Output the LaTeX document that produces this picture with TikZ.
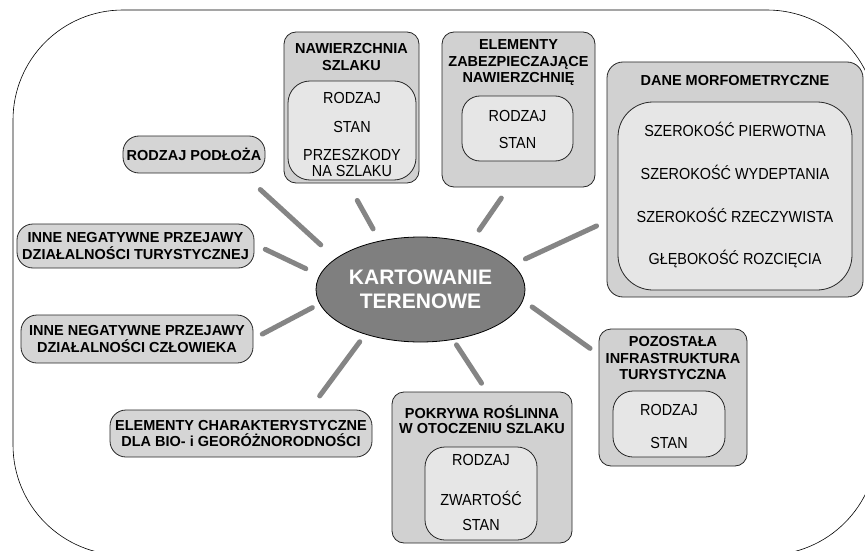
\documentclass[tikz,border=0pt]{standalone}
\usepackage{fontspec}
\setmainfont{Liberation Sans}
\newfontfamily\itemfont[FakeStretch=0.9]{Liberation Sans}
\usetikzlibrary{shapes.geometric}
\definecolor{boxgray}{HTML}{D1D1D1}
\definecolor{innergray}{HTML}{E6E6E6}
\definecolor{pillgray}{HTML}{D5D5D5}
\definecolor{ktgray}{HTML}{7F7F7F}
\definecolor{linkgray}{HTML}{858585}
\tikzset{
	% frame round everything
	frame/.style={draw=black, line width=0.6pt, rounded corners=110pt},
	% boxes
	outerbox/.style={draw=black!85, fill=boxgray, rounded corners=12pt, line width=0.8pt, inner sep=0pt, outer sep=0pt},
	innerbox/.style={draw=black!85, fill=innergray, rounded corners=22pt, line width=0.8pt, inner sep=0pt, outer sep=0pt},
	pill/.style={draw=black!85, fill=pillgray, rounded corners=16pt, line width=0.8pt, inner sep=0pt, outer sep=0pt, align=center, font=\fontsize{14.5}{16.5}\selectfont\bfseries},
	% texts
	title/.style={align=center, inner sep=0pt, font=\fontsize{14.5}{16.5}\selectfont\bfseries},
	item/.style={align=center, inner sep=0pt, font=\itemfont\fontsize{16}{16.5}\selectfont},
	% connectors
	link/.style={draw=linkgray, line width=5pt, line cap=round},
}

\begin{document}
\begin{tikzpicture}[x=1pt, y=-1pt]
	\useasboundingbox (0,0) rectangle (865,551);
	\clip (0,0) rectangle (865,551);
	\draw[frame] (13,10) rectangle (877,555);
	
	% centre
	\node[ellipse, draw=black, line width=0.8pt, fill=ktgray, minimum width=209pt, minimum height=105pt, inner sep=0pt, outer sep=0pt, text=white, align=center, font=\fontsize{21}{23.5}\selectfont\bfseries] (kt) at (420.5,289.5) {KARTOWANIE\\TERENOWE};
	
	% nawierzchnia
	\node[outerbox, minimum width=135pt, minimum height=151pt] (naw) at (351.5,107.5) {};
	\node[title] (nawt) at (351.5,57) {NAWIERZCHNIA\\SZLAKU};
	\node[innerbox, minimum width=128pt, minimum height=99pt] (nawin) at (352,130.5) {};
	\node[item] (nawa) at (352,97.5) {RODZAJ};
	\node[item] (nawb) at (352,126.5) {STAN};
	\node[item] (nawc) at (352,163) {PRZESZKODY\\[-0.5pt]NA SZLAKU};
	
	% elementy zabezpieczajace
	\node[outerbox, minimum width=153pt, minimum height=155pt] (zab) at (518.5,109.5) {};
	\node[title] (zabt) at (518.5,63) {ELEMENTY\\ZABEZPIECZAJĄCE\\NAWIERZCHNIĘ};
	\node[innerbox, rounded corners=18pt, minimum width=111pt, minimum height=65pt] (zabin) at (517.5,128.5) {};
	\node[item] (zaba) at (517.5,116) {RODZAJ};
	\node[item] (zabb) at (517.5,143) {STAN};
	
	% dane morfometryczne
	\node[outerbox, rounded corners=16pt, minimum width=256pt, minimum height=235pt] (morf) at (735,179.5) {};
	\node[title] (morft) at (735,81) {DANE MORFOMETRYCZNE};
	\node[innerbox, rounded corners=35pt, minimum width=234pt, minimum height=188pt] (morfin) at (735,196) {};
	\node[item] (morfa) at (735,129) {SZEROKOŚĆ PIERWOTNA};
	\node[item] (morfb) at (735,172) {SZEROKOŚĆ WYDEPTANIA};
	\node[item] (morfc) at (735,215) {SZEROKOŚĆ RZECZYWISTA};
	\node[item] (morfd) at (735,259) {GŁĘBOKOŚĆ ROZCIĘCIA};
	
	% pozostala infrastruktura
	\node[outerbox, minimum width=148pt, minimum height=137pt] (poz) at (673,397.5) {};
	\node[title] (pozt) at (673,358.5) {POZOSTAŁA\\INFRASTRUKTURA\\TURYSTYCZNA};
	\node[innerbox, rounded corners=20pt, minimum width=112pt, minimum height=66pt] (pozin) at (669,424) {};
	\node[item] (poza) at (669,410) {RODZAJ};
	\node[item] (pozb) at (669,443) {STAN};
	
	% pokrywa roslinna
	\node[outerbox, minimum width=180pt, minimum height=151pt] (pok) at (482,467.5) {};
	\node[title] (pokt) at (482,419.5) {POKRYWA ROŚLINNA\\[-1.5pt]W OTOCZENIU SZLAKU};
	\node[innerbox, rounded corners=20pt, minimum width=112pt, minimum height=93pt] (pokin) at (481,493.5) {};
	\node[item] (poka) at (481,460) {RODZAJ};
	\node[item] (pokb) at (481,498) {ZWARTOŚĆ};
	\node[item] (pokc) at (481,525) {STAN};
	
	% left side
	\node[pill, minimum width=142pt, minimum height=37pt] (podl) at (194,154.5) {RODZAJ PODŁOŻA};
	\node[pill, minimum width=237pt, minimum height=44pt] (tur) at (135.5,246) {INNE NEGATYWNE PRZEJAWY\\DZIAŁALNOŚCI TURYSTYCZNEJ};
	\node[pill, minimum width=232pt, minimum height=48pt] (czl) at (137,339) {INNE NEGATYWNE PRZEJAWY\\DZIAŁALNOŚCI CZŁOWIEKA};
	\node[pill, minimum width=262pt, minimum height=47pt] (bio) at (241,433.5) {ELEMENTY CHARAKTERYSTYCZNE\\DLA BIO- i GEORÓŻNORODNOŚCI};
	
	% connectors
	\draw[link, shorten <=20.5pt, shorten >=24.5pt] (kt.160.4) -- (podl.-21.7);
	\draw[link, shorten <=15.5pt, shorten >=12.5pt] (kt.172.2) -- (tur.1.2);
	\draw[link, shorten <=8.5pt, shorten >=10.5pt] (kt.188.4) -- (czl.0.2);
	\draw[link, shorten <=9.5pt, shorten >=17.5pt] (kt.219.6) -- (bio.19.1);
	\draw[link, shorten <=6.5pt, shorten >=10.5pt] (kt.-57.2) -- (pok.86.6);
	\draw[link, shorten <=11.5pt, shorten >=11pt] (kt.-6.2) -- (poz.150.8);
	\draw[link, shorten <=14pt, shorten >=11.5pt] (kt.15) -- (morf.198.1);
	\draw[link, shorten <=16pt, shorten >=13.5pt] (kt.43.6) -- (zab.-97.5);
	\draw[link, shorten <=14pt, shorten >=20pt] (kt.130.1) -- (naw.-93.9);
	
\end{tikzpicture}
\end{document}
